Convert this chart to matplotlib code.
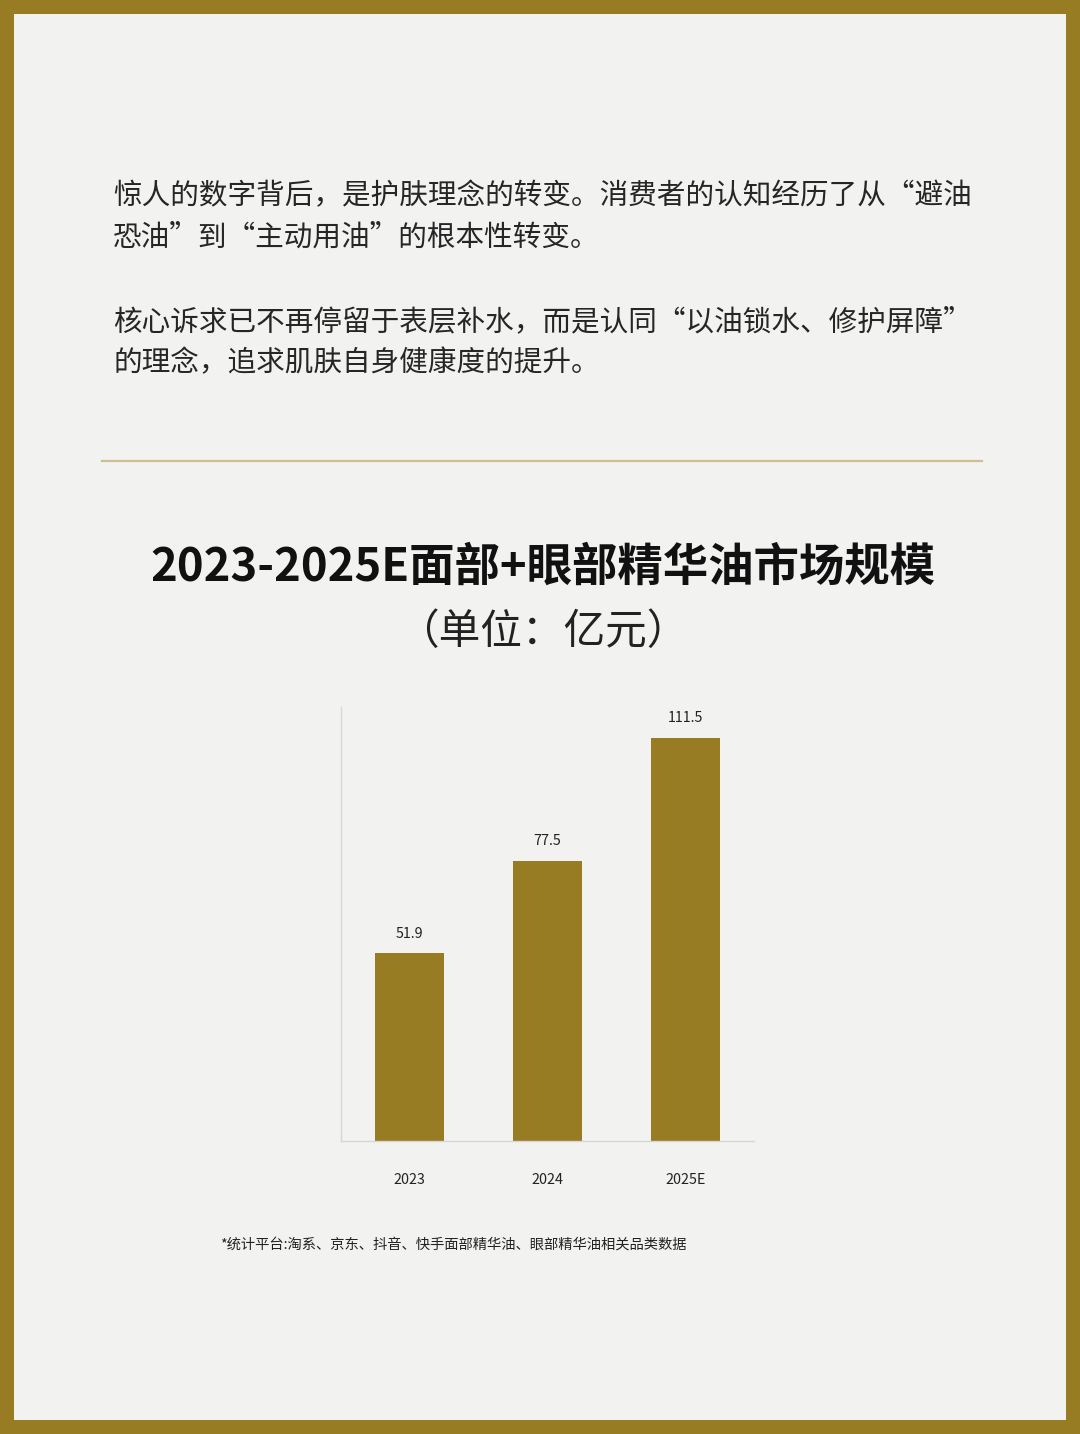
import matplotlib.pyplot as plt
from matplotlib.patches import Rectangle

plt.rcParams['font.family'] = ['Noto Sans CJK SC', 'DejaVu Sans']

# data
years = ["2023", "2024", "2025E"]
market_size = [51.9, 77.5, 111.5]  # 亿元

paragraph_lines = [
    "惊人的数字背后，是护肤理念的转变。消费者的认知经历了从“避油",
    "恐油”到“主动用油”的根本性转变。",
    "核心诉求已不再停留于表层补水，而是认同“以油锁水、修护屏障”",
    "的理念，追求肌肤自身健康度的提升。",
]
paragraph_y = [196, 238, 322, 363]
title = "2023-2025E面部+眼部精华油市场规模"
subtitle = "（单位：亿元）"
footnote = "*统计平台:淘系、京东、抖音、快手面部精华油、眼部精华油相关品类数据"

gold = "#977c24"
bg = "#f2f2f1"
W, H = 1080, 1434

fig = plt.figure(figsize=(W / 100, H / 100), dpi=100, facecolor=bg)

# gold frame
bw = 14
for x, y, w, h in [(0, 0, W, bw), (0, H - bw, W, bw), (0, 0, bw, H), (W - bw, 0, bw, H)]:
    fig.patches.append(Rectangle((x / W, y / H), w / W, h / H, transform=fig.transFigure,
                                 facecolor=gold, edgecolor="none", zorder=0))

# body text
for line, yy in zip(paragraph_lines, paragraph_y):
    fig.text(113 / W, 1 - yy / H, line, fontsize=20.6, color="#262626", va="center", ha="left")

# separator
fig.add_artist(plt.Line2D([102 / W, 982 / W], [1 - 461 / H] * 2, color="#cdbf94", lw=1.6))

fig.text(543 / W, 1 - 568 / H, title, fontsize=32.7, fontweight="bold", color="#111111",
         ha="center", va="center")
fig.text(543 / W, 1 - 633 / H, subtitle, fontsize=30, color="#222222", ha="center", va="center")

# chart
ax = fig.add_axes([341 / W, 1 - 1141 / H, 413 / W, 434 / H])
ax.set_facecolor("none")
x = range(len(years))
bars = ax.bar(x, market_size, width=0.5, color=gold, zorder=2)
for b, v in zip(bars, market_size):
    ax.annotate(f"{v}", (b.get_x() + b.get_width() / 2, v), xytext=(0, 9),
                textcoords="offset points", ha="center", va="bottom", fontsize=10.3, color="#222222")
ax.set_xlim(-0.5, 2.5)
ax.set_ylim(0, 120)
ax.set_xticks(list(x))
ax.set_xticklabels(years, fontsize=10.3, color="#222222")
ax.tick_params(axis="x", length=0, pad=23)
ax.set_yticks([])
for s in ["top", "right"]:
    ax.spines[s].set_visible(False)
for s in ["left", "bottom"]:
    ax.spines[s].set_color("#d6d6d6")
    ax.spines[s].set_linewidth(1)

fig.text(220 / W, 1 - 1245 / H, footnote, fontsize=10.3, color="#222222", ha="left", va="center")

fig.savefig("out.png", dpi=100, facecolor=bg)
